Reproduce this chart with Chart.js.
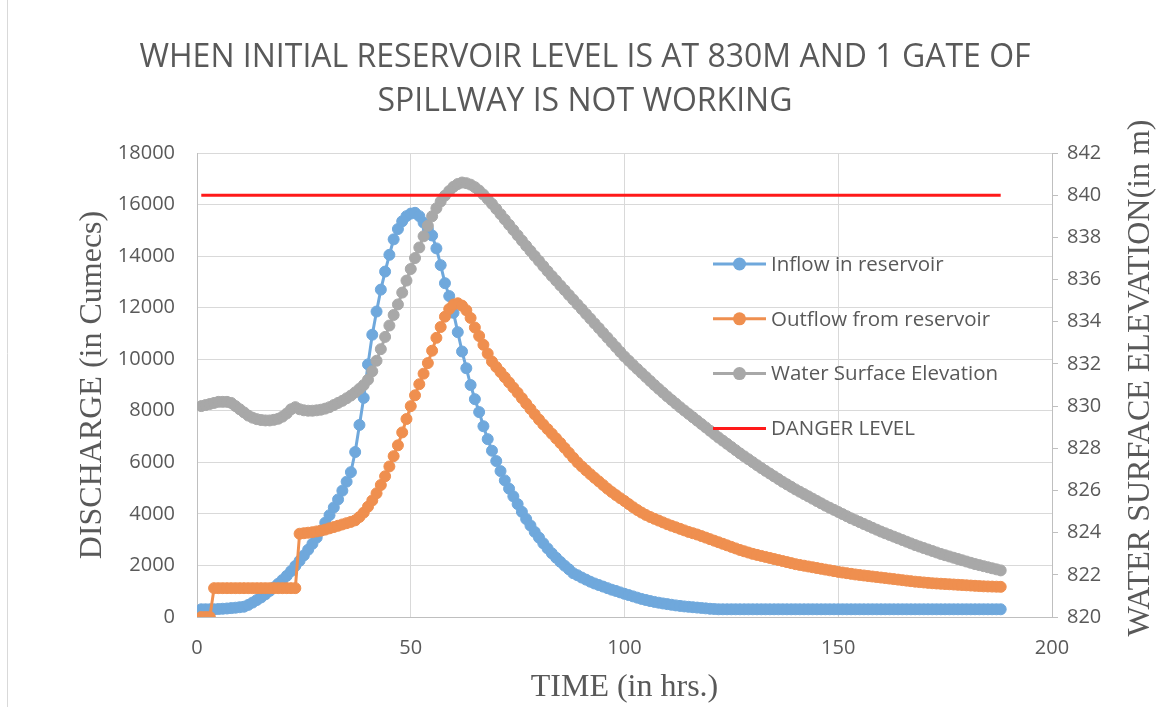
<!DOCTYPE html>
<html>
<head>
<meta charset="utf-8">
<script src="https://cdn.jsdelivr.net/npm/chart.js@4.4.1/dist/chart.umd.min.js"></script>
<style>
html,body{margin:0;padding:0;background:#ffffff;}
#wrap{position:relative;width:1170px;height:707px;overflow:hidden;}
canvas{display:block;}
</style>
</head>
<body>
<div id="wrap"><canvas id="c" width="1170" height="707"></canvas></div>
<script>
// ---------------- DATA ----------------
const titleLines = ['WHEN INITIAL RESERVOIR LEVEL IS AT 830M AND 1 GATE OF', 'SPILLWAY IS NOT WORKING'];
const xAxisTitle = 'TIME (in hrs.)';
const leftAxisTitle = 'DISCHARGE (in Cumecs)';
const rightAxisTitle = 'WATER SURFACE ELEVATION(in m)';
const seriesNames = ['Inflow in reservoir', 'Outflow from reservoir', 'Water Surface Elevation', 'DANGER LEVEL'];

// time in hours, 1..188
const hours = Array.from({length: 188}, (_, i) => i + 1);

// Inflow in reservoir (cumecs), t = 1..188
const inflow = [
  300,300,300,300,310,320,330,345,360,380,
  400,470,560,660,760,880,1010,1150,1290,1440,
  1600,1780,1980,2180,2390,2610,2840,3080,3350,3660,
  3950,4250,4560,4900,5250,5620,6400,7450,8500,9800,
  10950,11850,12700,13400,14050,14650,15050,15350,15550,15650,
  15680,15550,15300,15050,14800,14300,13650,12950,12450,11800,
  11050,10300,9650,9000,8450,7950,7400,6900,6450,6050,
  5660,5300,4980,4680,4380,4080,3800,3550,3300,3080,
  2860,2660,2470,2300,2140,1990,1850,1700,1620,1530,
  1450,1370,1300,1240,1180,1120,1060,1010,955,900,
  850,800,750,700,660,620,585,555,525,500,
  475,450,430,410,395,380,365,350,335,320,
  310,300,300,300,300,300,300,300,300,300,
  300,300,300,300,300,300,300,300,300,300,
  300,300,300,300,300,300,300,300,300,300,
  300,300,300,300,300,300,300,300,300,300,
  300,300,300,300,300,300,300,300,300,300,
  300,300,300,300,300,300,300,300,300,300,
  300,300,300,300,300,300,300,300
];

// Outflow from reservoir (cumecs), t = 1..188
const outflow = [
  0,0,0,1120,1120,1120,1120,1120,1120,1120,
  1120,1120,1120,1120,1120,1120,1120,1120,1120,1120,
  1120,1120,1120,3230,3250,3270,3290,3320,3350,3390,
  3440,3490,3540,3590,3640,3690,3750,3880,4050,4280,
  4520,4800,5120,5460,5840,6240,6660,7160,7680,8180,
  8600,9030,9440,9850,10330,10830,11250,11650,11950,12120,
  12170,12080,11900,11600,11230,10900,10560,10220,9910,9700,
  9500,9300,9100,8900,8700,8490,8280,8070,7860,7660,
  7470,7290,7110,6930,6750,6560,6370,6180,6000,5840,
  5690,5540,5400,5260,5120,4980,4850,4730,4610,4500,
  4380,4260,4150,4050,3960,3880,3810,3740,3670,3600,
  3540,3480,3420,3360,3300,3250,3200,3140,3080,3020,
  2960,2900,2840,2780,2720,2660,2600,2550,2500,2450,
  2410,2370,2330,2290,2250,2210,2170,2130,2090,2050,
  2020,1990,1960,1930,1900,1870,1840,1810,1780,1750,
  1725,1700,1675,1650,1630,1610,1590,1570,1550,1530,
  1510,1490,1470,1450,1430,1410,1390,1370,1355,1340,
  1325,1310,1300,1290,1280,1270,1260,1250,1240,1230,
  1220,1210,1200,1190,1185,1180,1175,1170
];

// Water surface elevation (m), t = 1..188
const elevation = [
  830.00,830.05,830.10,830.15,830.20,830.20,830.20,830.15,830.00,829.85,
  829.70,829.55,829.45,829.38,829.34,829.32,829.32,829.35,829.40,829.50,
  829.65,829.85,829.95,829.85,829.80,829.78,829.78,829.80,829.83,829.88,
  829.95,830.05,830.15,830.25,830.37,830.50,830.65,830.82,831.00,831.25,
  831.65,832.15,832.70,833.28,833.82,834.32,834.82,835.38,835.95,836.50,
  837.02,837.52,838.05,838.55,839.00,839.38,839.70,839.98,840.20,840.40,
  840.53,840.60,840.57,840.50,840.38,840.22,840.03,839.82,839.59,839.35,
  839.10,838.85,838.60,838.35,838.10,837.85,837.60,837.36,837.12,836.88,
  836.64,836.40,836.17,835.95,835.72,835.50,835.27,835.05,834.82,834.60,
  834.37,834.15,833.92,833.70,833.47,833.25,833.02,832.80,832.57,832.35,
  832.15,831.95,831.76,831.57,831.38,831.19,831.00,830.82,830.64,830.46,
  830.29,830.12,829.95,829.79,829.63,829.47,829.31,829.15,828.99,828.83,
  828.67,828.51,828.36,828.21,828.06,827.91,827.76,827.62,827.48,827.34,
  827.20,827.06,826.93,826.80,826.67,826.54,826.41,826.29,826.17,826.05,
  825.94,825.83,825.72,825.61,825.50,825.39,825.28,825.18,825.08,824.98,
  824.88,824.78,824.68,824.59,824.50,824.41,824.32,824.23,824.14,824.05,
  823.97,823.89,823.81,823.73,823.65,823.57,823.49,823.41,823.34,823.27,
  823.20,823.13,823.06,822.99,822.93,822.87,822.81,822.75,822.69,822.63,
  822.57,822.51,822.46,822.41,822.36,822.31,822.26,822.21
];

// Danger level (m)
const dangerHours = [1, 188];
const dangerLevel = [840, 840];

// axis ranges / ticks
const xTicks = [0, 50, 100, 150, 200];
const leftTicks = [0, 2000, 4000, 6000, 8000, 10000, 12000, 14000, 16000, 18000];
const rightTicks = [820, 822, 824, 826, 828, 830, 832, 834, 836, 838, 840, 842];

// ---------------- STYLE ----------------
const C_BLUE = '#6FA8DC';
const C_ORANGE = '#EF8F4F';
const C_GRAY = '#A8A8A8';
const C_RED = '#FF1A1A';
const C_TEXT = '#595959';
const C_GRID = '#D9D9D9';
const C_AXIS = '#BFBFBF';
const SANS = "'Open Sans', 'Liberation Sans', sans-serif";
const SERIF = "'Liberation Serif', 'DejaVu Serif', serif";

const toPts = (xs, ys) => xs.map((x, i) => ({x: x, y: ys[i]}));

const legendPlugin = {
  id: 'customDecor',
  afterDraw(chart) {
    const ctx = chart.ctx;
    ctx.save();
    // outer frame line at left
    ctx.strokeStyle = '#D9D9D9';
    ctx.lineWidth = 1;
    ctx.beginPath(); ctx.moveTo(7.5, 0); ctx.lineTo(7.5, 707); ctx.stroke();

    // legend inside plot
    const items = [
      {name: seriesNames[0], color: C_BLUE, marker: true},
      {name: seriesNames[1], color: C_ORANGE, marker: true},
      {name: seriesNames[2], color: C_GRAY, marker: true},
      {name: seriesNames[3], color: C_RED, marker: false}
    ];
    const lx = 713, lw = 53, ty0 = 264, dy = 54.8;
    ctx.font = '20.5px ' + SANS;
    ctx.textBaseline = 'middle';
    ctx.textAlign = 'left';
    items.forEach((it, i) => {
      const y = ty0 + i * dy;
      ctx.strokeStyle = it.color;
      ctx.lineWidth = 3;
      ctx.beginPath(); ctx.moveTo(lx, y); ctx.lineTo(lx + lw, y); ctx.stroke();
      if (it.marker) {
        ctx.fillStyle = it.color;
        ctx.beginPath(); ctx.arc(lx + lw / 2, y, 6.5, 0, Math.PI * 2); ctx.fill();
      }
      ctx.fillStyle = C_TEXT;
      ctx.fillText(it.name, lx + lw + 5, y + 1);
    });

    // right axis title (reads bottom-to-top)
    const ca = chart.chartArea;
    ctx.save();
    ctx.translate(1141, (ca.top + ca.bottom) / 2 - 7);
    ctx.rotate(-Math.PI / 2);
    ctx.font = '32px ' + SERIF;
    ctx.fillStyle = C_TEXT;
    ctx.textAlign = 'center';
    ctx.textBaseline = 'middle';
    ctx.fillText(rightAxisTitle, 0, 0);
    ctx.restore();
    ctx.restore();
  }
};

const lineDs = (label, pts, color, axis, order, marker) => ({
  label: label,
  data: pts,
  yAxisID: axis,
  borderColor: color,
  backgroundColor: color,
  borderWidth: marker ? 3 : 3,
  pointRadius: marker ? 5.5 : 0,
  pointBorderWidth: 1,
  pointBorderColor: color,
  pointBackgroundColor: color,
  pointHoverRadius: 0,
  tension: 0,
  fill: false,
  order: order
});

new Chart(document.getElementById('c'), {
  type: 'line',
  data: {
    datasets: [
      lineDs(seriesNames[3], toPts(dangerHours, dangerLevel), C_RED, 'y1', 0, false),
      lineDs(seriesNames[2], toPts(hours, elevation), C_GRAY, 'y1', 1, true),
      lineDs(seriesNames[1], toPts(hours, outflow), C_ORANGE, 'y', 2, true),
      lineDs(seriesNames[0], toPts(hours, inflow), C_BLUE, 'y', 3, true)
    ]
  },
  plugins: [legendPlugin],
  options: {
    responsive: false,
    devicePixelRatio: 1,
    animation: false,
    events: [],
    layout: {padding: {left: 0, right: 0, top: 0, bottom: 0}},
    plugins: {
      legend: {display: false},
      tooltip: {enabled: false},
      title: {
        display: true,
        text: titleLines,
        color: C_TEXT,
        font: {family: SANS, size: 32, weight: 'normal', lineHeight: '44px'},
        padding: {top: 36, bottom: 29}
      }
    },
    scales: {
      x: {
        type: 'linear',
        min: 0, max: 200,
        afterBuildTicks: s => { s.ticks = xTicks.map(v => ({value: v})); },
        afterFit: s => { s.height = 90; },
        ticks: {color: C_TEXT, font: {family: SANS, size: 20}, padding: 19, callback: v => String(v), maxRotation: 0},
        grid: {color: C_GRID, lineWidth: 1, drawTicks: false},
        border: {color: C_AXIS, width: 1},
        title: {display: true, text: xAxisTitle, color: C_TEXT, font: {family: SERIF, size: 32, lineHeight: 1.2}, padding: {top: 54, bottom: 0}}
      },
      y: {
        type: 'linear',
        position: 'left',
        min: 0, max: 18000,
        afterBuildTicks: s => { s.ticks = leftTicks.map(v => ({value: v})); },
        afterFit: s => { s.width = 197; },
        ticks: {color: C_TEXT, font: {family: SANS, size: 20}, padding: 22, callback: v => String(v)},
        grid: {color: C_GRID, lineWidth: 1, drawTicks: false},
        border: {color: C_AXIS, width: 1},
        title: {display: true, text: leftAxisTitle, color: C_TEXT, font: {family: SERIF, size: 32, lineHeight: 1.2}, padding: {top: 73, bottom: 0}}
      },
      y1: {
        type: 'linear',
        position: 'right',
        min: 820, max: 842,
        afterBuildTicks: s => { s.ticks = rightTicks.map(v => ({value: v})); },
        afterFit: s => { s.width = 118; },
        ticks: {color: C_TEXT, font: {family: SANS, size: 20}, padding: 9, callback: v => String(v)},
        grid: {drawOnChartArea: false, drawTicks: true, tickLength: 6, color: C_AXIS},
        border: {color: C_AXIS, width: 1},
        title: {display: false}
      }
    }
  }
});
</script>
</body>
</html>
